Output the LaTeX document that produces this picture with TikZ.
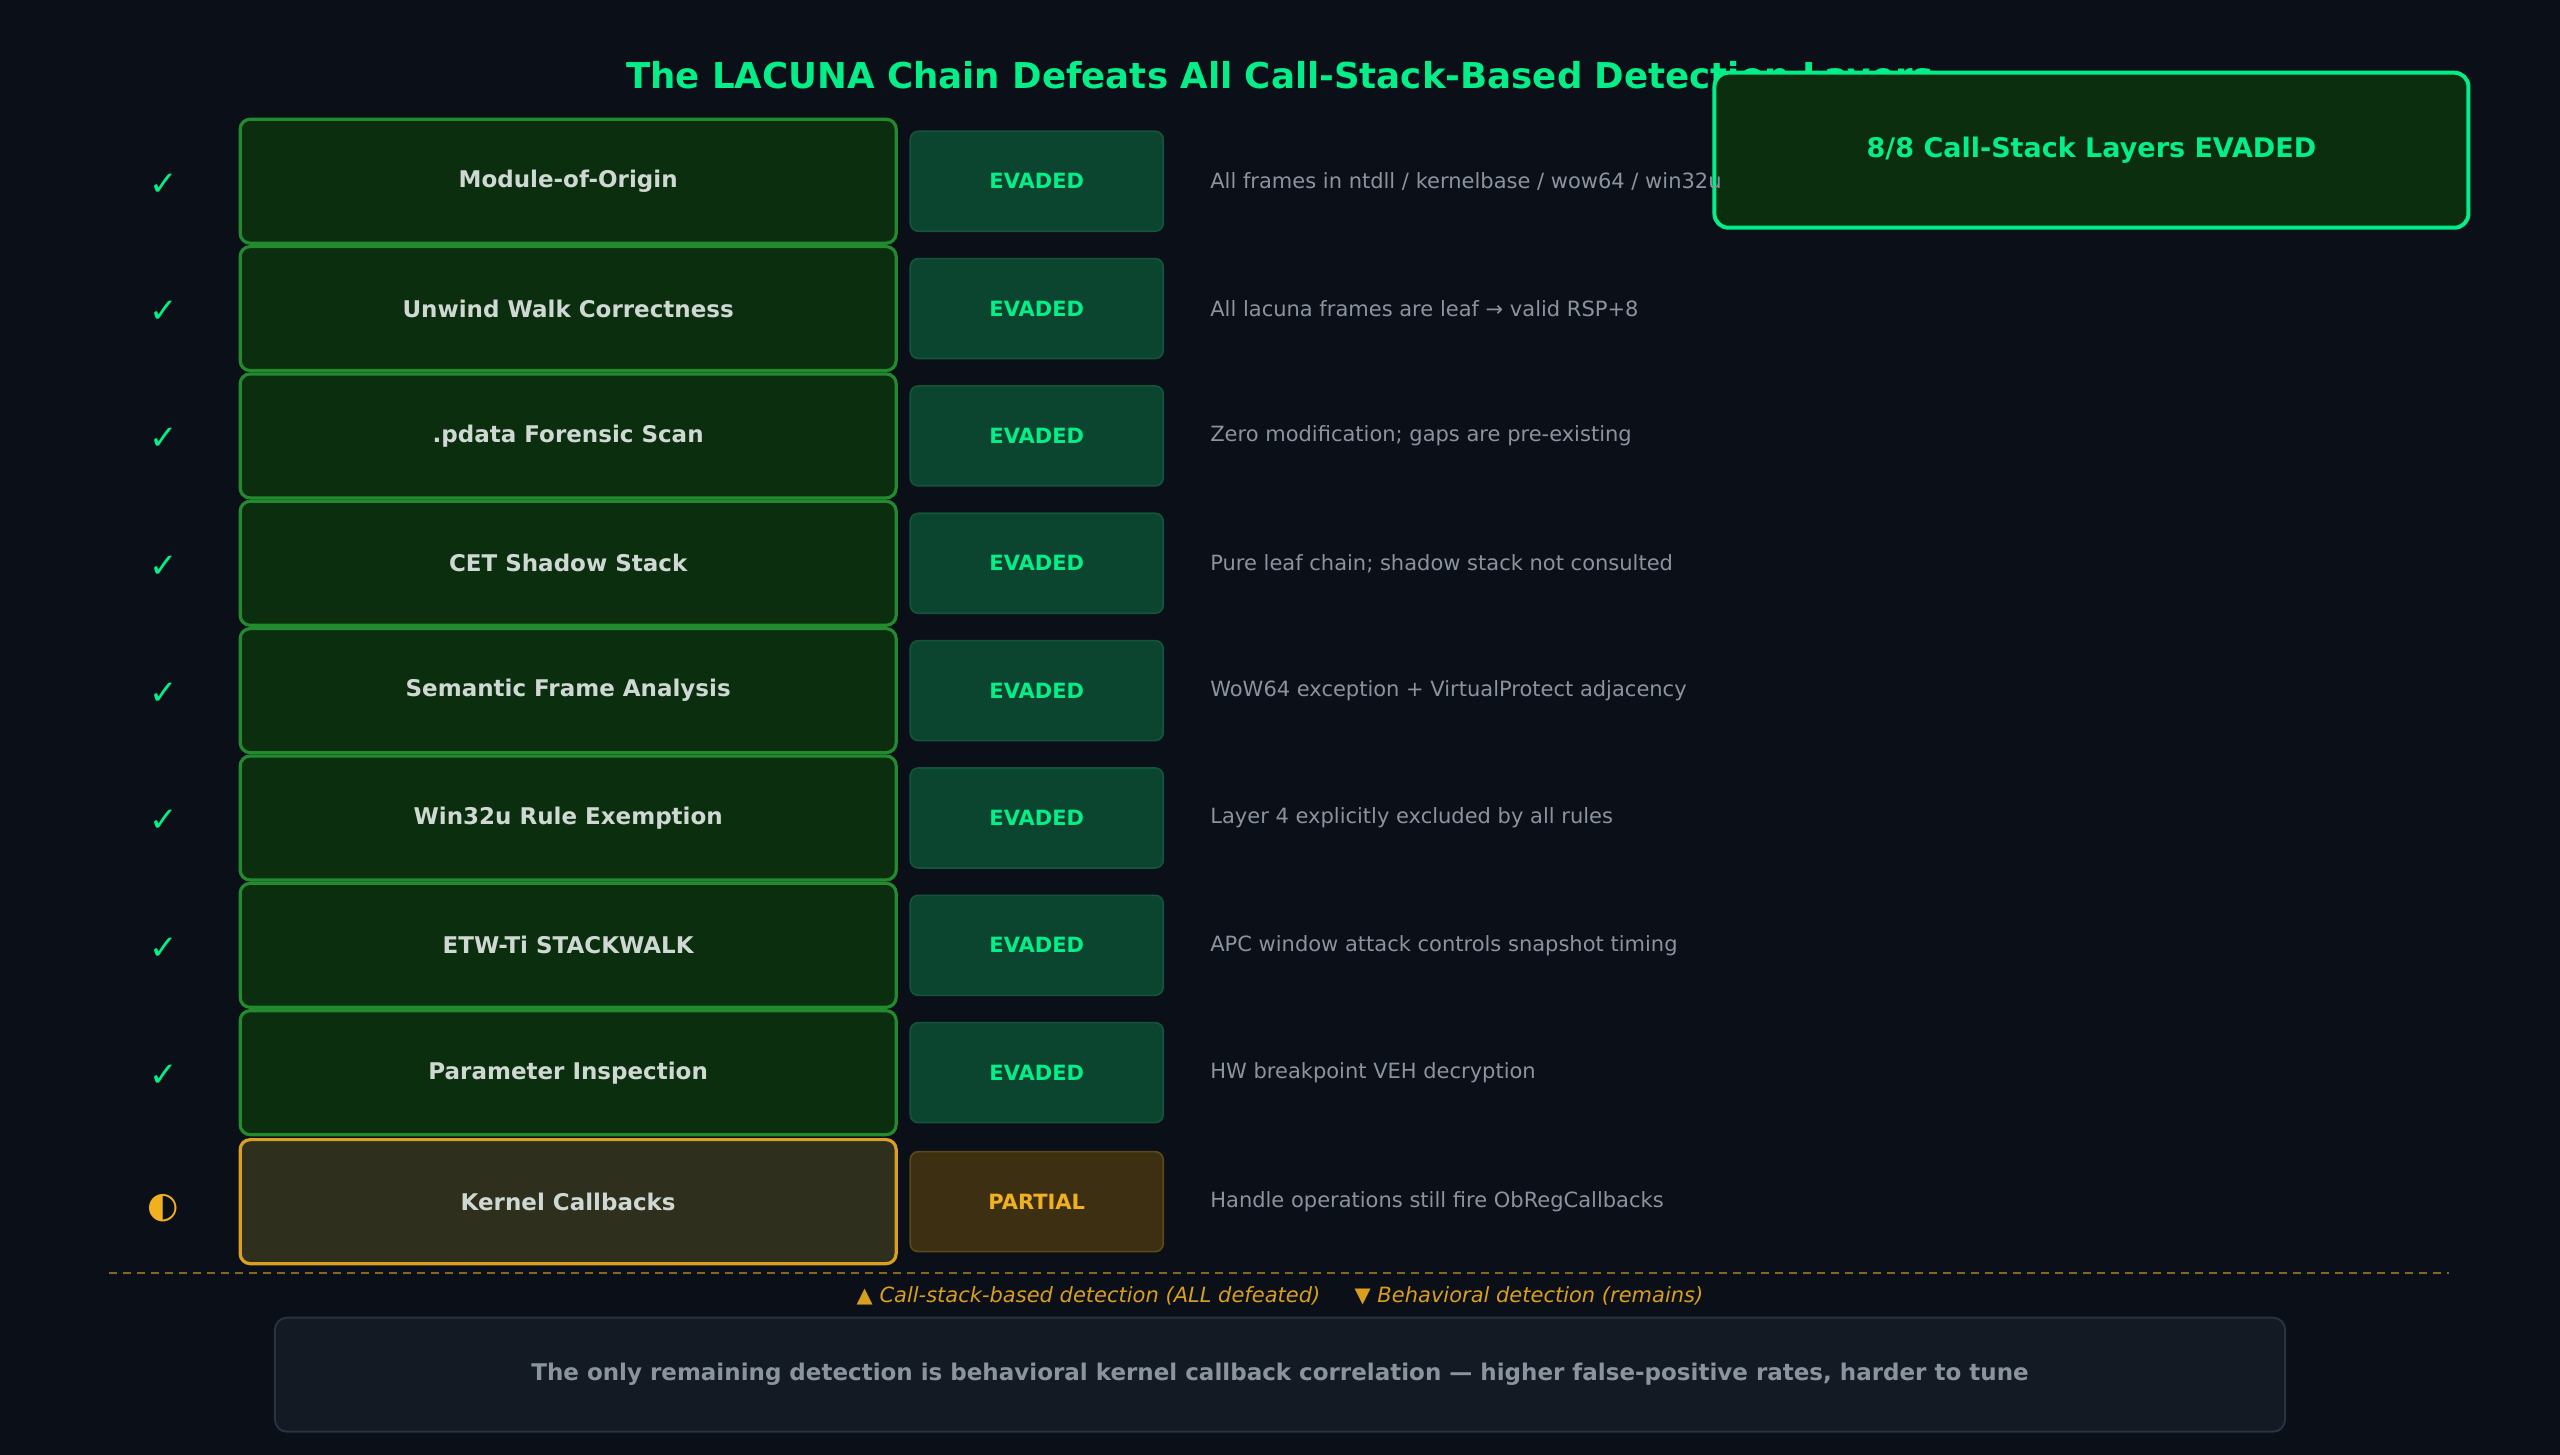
\documentclass[tikz,border=0pt]{standalone}
\usepackage{fontspec}
\setmainfont{DejaVu Sans}
\definecolor{bg}{HTML}{0B0F17}
\definecolor{rowfill}{HTML}{0A2E0E}
\definecolor{rowbord}{HTML}{238B2F}
\definecolor{lbl}{HTML}{CFD8D3}
\definecolor{bfill}{HTML}{0B4530}
\definecolor{bbord}{HTML}{13553A}
\definecolor{bright}{HTML}{00EE88}
\definecolor{desc}{HTML}{8B949E}
\definecolor{pfill}{HTML}{2E2F1C}
\definecolor{pbord}{HTML}{D9A022}
\definecolor{pbfill}{HTML}{3D3012}
\definecolor{pbbord}{HTML}{5A4A1A}
\definecolor{ptext}{HTML}{F0B020}
\definecolor{botfill}{HTML}{141A24}
\definecolor{botbord}{HTML}{2A3240}
\begin{document}
\begin{tikzpicture}[x=0.8163pt,y=-0.8163pt,
  rowbox/.style={draw=rowbord,fill=rowfill,line width=1.6pt,rounded corners=5pt,minimum width=328pt,minimum height=62pt,text=lbl,font=\bfseries\fontsize{11.5}{13}\selectfont},
  badge/.style={draw=bbord,fill=bfill,line width=0.8pt,rounded corners=4pt,minimum width=126.5pt,minimum height=50pt,text=bright,font=\bfseries\fontsize{10.5}{12}\selectfont},
  desctext/.style={anchor=west,text=desc,font=\fontsize{10.5}{12}\selectfont},
  chk/.style={text=bright,font=\fontsize{17}{19}\selectfont}]
\fill[bg] (0,0) rectangle (1568,891);
\node[text=bright,font=\bfseries\fontsize{17.8}{20}\selectfont] (title) at (784,48) {The LACUNA Chain Defeats All Call-Stack-Based Detection Layers};
\node[draw=bright,fill=rowfill,line width=2pt,rounded corners=7pt,minimum width=377pt,minimum height=77.5pt,text=bright,font=\bfseries\fontsize{13.5}{16}\selectfont] (sum) at (1281,92) {8/8 Call-Stack Layers EVADED};
\foreach \i/\name/\d in {0/Module-of-Origin/{All frames in ntdll / kernelbase / wow64 / win32u},
1/Unwind Walk Correctness/{All lacuna frames are leaf → valid RSP+8},
2/.pdata Forensic Scan/{Zero modification; gaps are pre-existing},
3/CET Shadow Stack/{Pure leaf chain; shadow stack not consulted},
4/Semantic Frame Analysis/{WoW64 exception + VirtualProtect adjacency},
5/Win32u Rule Exemption/{Layer 4 explicitly excluded by all rules},
6/ETW-Ti STACKWALK/{APC window attack controls snapshot timing},
7/Parameter Inspection/{HW breakpoint VEH decryption}}{
  \pgfmathsetmacro{\yy}{111+78*\i}
  \node[chk] (c\i) at (100,\yy+2) {✓};
  \node[rowbox] (r\i) at (348,\yy) {\name};
  \node[badge] (b\i) at (635,\yy) {EVADED};
  \node[desctext] (d\i) at (737,\yy) {\d};
}
\node[text=ptext,font=\fontsize{18}{20}\selectfont] (c8) at (100,740) {◐};
\node[rowbox,draw=pbord,fill=pfill] (r8) at (348,736) {Kernel Callbacks};
\node[badge,draw=pbbord,fill=pbfill,text=ptext] (b8) at (635,736) {PARTIAL};
\node[desctext] (d8) at (737,736) {Handle operations still fire ObRegCallbacks};
\coordinate (l1) at (67,780); \coordinate (l2) at (1500,780);
\draw[pbord!60!bg,line width=1pt,dash pattern=on 4pt off 3pt] (l1) -- (l2);
\node[text=ptext!90!black,font=\itshape\fontsize{10.5}{12}\selectfont] (leg) at (784,794) {▲ Call-stack-based detection (ALL defeated)\quad\ \ ▼ Behavioral detection (remains)};
\node[draw=botbord,fill=botfill,line width=1pt,rounded corners=6pt,minimum width=1005pt,minimum height=57pt,text=desc,font=\bfseries\fontsize{11.5}{13}\selectfont] (bot) at (784,842) {The only remaining detection is behavioral kernel callback correlation — higher false-positive rates, harder to tune};
\end{tikzpicture}
\end{document}
